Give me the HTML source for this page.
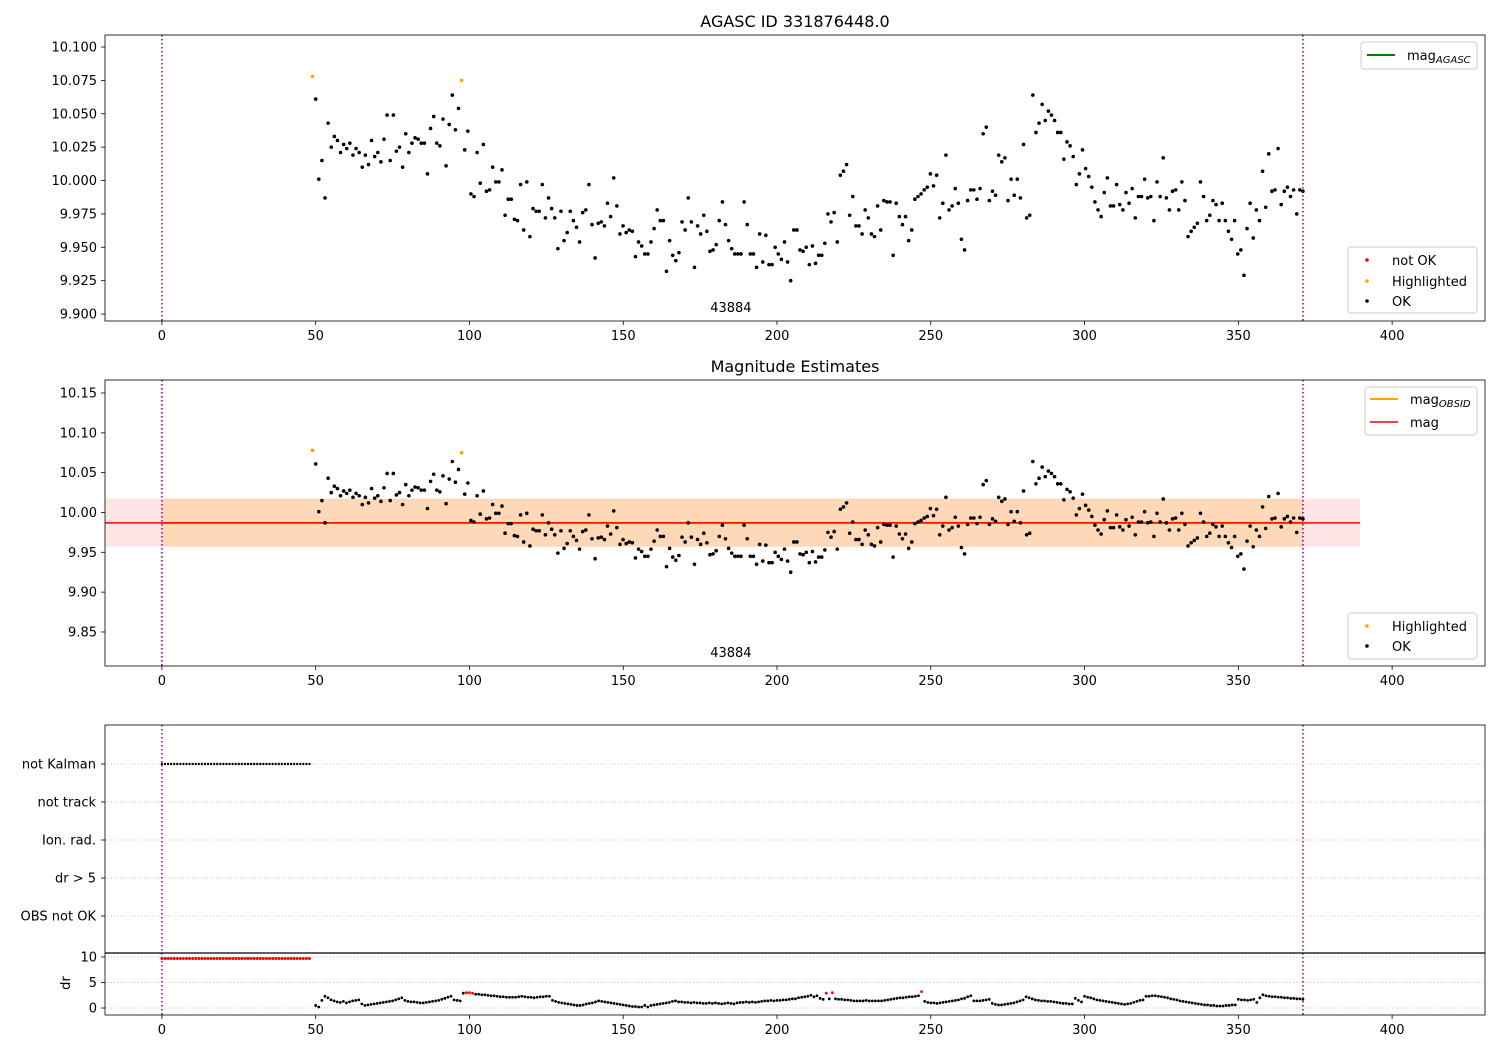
<!DOCTYPE html>
<html><head><meta charset="utf-8"><style>
html,body{margin:0;padding:0;background:#fff;}
svg{display:block;font-family:"DejaVu Sans","Liberation Sans",sans-serif;}
</style></head><body>
<svg id="chart" width="1500" height="1050" viewBox="0 0 1500 1050" xmlns="http://www.w3.org/2000/svg"></svg>
<script>
// ---- data ----
const magStart = 49;
const magEnd = 371;
const magValues = [10.078,10.061,10.001,10.015,9.987,10.043,10.025,10.033,10.030,10.021,10.027,10.024,10.028,10.019,10.024,10.021,10.010,10.019,10.012,10.030,10.018,10.021,10.014,10.031,10.049,10.015,10.049,10.022,10.025,10.010,10.035,10.021,10.028,10.032,10.031,10.028,10.028,10.005,10.039,10.048,10.028,10.026,10.046,10.011,10.042,10.064,10.038,10.054,10.075,10.023,10.037,9.990,9.988,10.021,9.998,10.027,9.992,9.993,10.010,9.999,9.999,10.008,9.974,9.986,9.986,9.971,9.970,9.997,9.963,9.999,9.958,9.979,9.977,9.977,9.997,9.972,9.987,9.979,9.972,9.949,9.977,9.955,9.961,9.977,9.970,9.965,9.954,9.976,9.978,9.997,9.967,9.942,9.968,9.969,9.966,9.983,9.973,10.002,9.981,9.960,9.966,9.961,9.963,9.962,9.943,9.954,9.951,9.945,9.945,9.954,9.964,9.978,9.970,9.970,9.932,9.955,9.944,9.940,9.946,9.969,9.963,9.987,9.969,9.935,9.966,9.960,9.974,9.962,9.947,9.948,9.952,9.970,9.984,9.967,9.955,9.949,9.945,9.945,9.945,9.984,9.967,9.945,9.945,9.935,9.960,9.939,9.959,9.937,9.937,9.950,9.945,9.941,9.954,9.939,9.925,9.963,9.963,9.948,9.947,9.950,9.937,9.951,9.938,9.944,9.944,9.953,9.975,9.969,9.976,9.954,10.004,10.007,10.012,9.974,9.988,9.966,9.966,9.960,9.978,9.972,9.960,9.958,9.981,9.963,9.985,9.984,9.984,9.944,9.983,9.973,9.967,9.973,9.955,9.963,9.986,9.988,9.990,9.993,9.995,10.005,9.996,10.004,9.972,9.983,10.019,9.978,9.981,9.994,9.983,9.956,9.948,9.985,9.993,9.993,9.986,9.994,10.035,10.040,9.985,9.992,9.989,10.019,10.014,10.017,9.985,10.001,9.989,10.001,9.987,10.027,9.972,9.974,10.064,10.036,10.043,10.057,10.045,10.052,10.049,10.045,10.036,10.036,10.016,10.029,10.026,10.018,9.997,10.005,10.023,10.009,10.003,9.995,9.984,9.978,9.973,9.991,10.002,9.981,9.981,9.997,9.982,9.978,9.991,9.983,9.994,9.972,9.988,9.988,10.001,9.987,9.988,9.970,9.999,9.988,10.017,9.987,9.978,9.992,9.993,9.978,9.999,9.985,9.958,9.962,9.965,9.968,9.999,9.988,9.970,9.974,9.985,9.982,9.970,9.983,9.970,9.962,9.956,9.970,9.945,9.948,9.929,9.964,9.983,9.957,9.978,9.970,10.007,9.980,10.020,9.992,9.993,10.024,9.982,9.992,9.995,9.988,9.993,9.975,9.993,9.992];
const highlightedIdx = [0, 48];
const magMean = 9.987;
const magBandLow = 9.957;
const magBandHigh = 10.0175;
const meanLineEnd = 389.6;
const obsStart = 0;
const obsEnd = 371;
const obsid = "43884";
const drStart = 50;
const drValues = [
0.5,0.2,1.5,2.3,2.0,1.6,1.4,1.2,1.1,1.3,
1.0,1.2,1.4,1.5,1.6,0.8,0.5,0.6,0.7,0.8,
0.9,1.0,1.1,1.2,1.3,1.4,1.6,1.8,2.0,1.5,
1.3,1.2,1.2,1.1,1.0,1.0,1.1,1.2,1.3,1.4,
1.5,1.7,1.9,2.1,2.3,1.6,1.5,1.4,2.9,3.0,
3.0,2.9,2.7,2.7,2.6,2.6,2.5,2.4,2.4,2.3,
2.2,2.2,2.1,2.1,2.1,2.1,2.2,2.3,2.2,2.1,
2.1,2.0,2.1,2.2,2.2,2.3,2.3,1.5,1.3,1.1,
1.0,0.9,0.8,0.7,0.6,0.5,0.5,0.6,0.8,0.9,
1.0,1.2,1.4,1.3,1.2,1.1,1.0,0.9,0.8,0.7,
0.6,0.5,0.4,0.3,0.3,0.2,0.2,0.5,0.2,0.5,
0.6,0.7,0.8,0.9,1.0,1.1,1.3,1.4,1.2,1.2,
1.1,1.1,1.0,1.1,1.0,1.0,0.9,0.9,1.0,0.9,
1.0,0.9,0.8,0.9,1.0,0.9,0.8,1.0,1.1,1.1,
1.2,1.1,1.2,1.1,1.2,1.3,1.4,1.4,1.5,1.4,
1.5,1.5,1.6,1.6,1.7,1.8,1.8,2.0,2.1,2.2,
2.3,2.5,2.2,2.4,1.9,1.7,2.9,1.8,3.0,1.8,
1.7,1.7,1.6,1.6,1.5,1.4,1.4,1.4,1.4,1.5,
1.4,1.4,1.4,1.4,1.4,1.5,1.6,1.7,1.8,1.9,
2.0,2.0,2.1,2.2,2.2,2.3,2.4,3.2,1.3,1.1,
1.0,1.0,0.9,1.0,1.1,1.2,1.3,1.4,1.5,1.6,
1.8,1.9,2.2,2.4,1.4,1.4,1.4,1.5,1.6,1.7,
0.9,0.7,0.6,0.6,0.7,0.8,0.9,1.0,1.2,1.4,
1.6,2.2,2.0,1.8,1.6,1.5,1.4,1.4,1.3,1.3,
1.2,1.1,1.0,0.9,0.9,0.8,0.8,1.9,1.5,1.2,
2.3,2.1,2.0,1.8,1.6,1.5,1.4,1.3,1.2,1.1,
1.0,0.9,0.8,0.7,0.8,0.9,1.1,1.3,1.5,1.6,
2.3,2.3,2.4,2.4,2.3,2.2,2.1,2.0,1.8,1.7,
1.6,1.4,1.3,1.2,1.1,1.0,0.9,0.8,0.7,0.6,
0.6,0.5,0.5,0.4,0.4,0.4,0.5,0.5,0.6,0.6,
1.7,1.6,1.6,1.5,1.6,1.7,1.1,2.0,2.6,2.4,
2.3,2.2,2.2,2.1,2.1,2.0,2.0,1.9,1.9,1.8,
1.8,1.7];
const earlyStart = 0;
const earlyEnd = 48;
const earlyDrValue = 9.7;
const drBadIdx = [49,50,51,166,168,197];
const flagRows = ["not Kalman","not track","Ion. rad.","dr > 5","OBS not OK"];
const p1Ticks = [9.900,9.925,9.950,9.975,10.000,10.025,10.050,10.075,10.100];
const p2Ticks = [9.85,9.90,9.95,10.00,10.05,10.10,10.15];
const drTicks = [0,5,10];
const xTicks = [0,50,100,150,200,250,300,350,400];

// ---- helpers ----
const NS = "http://www.w3.org/2000/svg";
const svg = document.getElementById('chart');
function el(tag, attrs, parent, text){
  const e = document.createElementNS(NS, tag);
  for (const k in attrs) e.setAttribute(k, attrs[k]);
  if (text !== undefined) e.textContent = text;
  (parent || svg).appendChild(e);
  return e;
}
const L = 105, R = 1485, XMIN = -18.5, XMAX = 430.2;
const sx = v => L + (v - XMIN) / (XMAX - XMIN) * (R - L);
function mkY(top, bottom, vmax, vmin){ return v => top + (vmax - v) / (vmax - vmin) * (bottom - top); }
const magStep = (magEnd - magStart) / (magValues.length - 1);
const magX = i => magStart + i * magStep;

const y1 = mkY(35, 321, 10.109, 9.8948);
const y2 = mkY(380, 666, 10.1663, 9.8073);
const yd = mkY(953, 1015, 10.78, -1.37);
const flagY = [764, 802, 840, 878, 916];
const FS = 13;

function xAxis(bottom, g){
  xTicks.forEach(t => {
    const x = sx(t);
    el('line', {x1:x, y1:bottom, x2:x, y2:bottom+4, stroke:'#000', 'stroke-width':0.8}, g);
    const tl = el('text', {x:x, y:bottom+19, 'font-size':FS, 'text-anchor':'middle', fill:'#000'}, g, String(t));
    
    
  });
}
function yAxis(ticks, ys, fmt, g){
  ticks.forEach(t => {
    const y = ys(t);
    el('line', {x1:L-4, y1:y, x2:L, y2:y, stroke:'#000', 'stroke-width':0.8}, g);
    const tl = el('text', {x:L-8, y:y+4.5, 'font-size':FS, 'text-anchor':'end', fill:'#000'}, g, t.toFixed(fmt));
    
    
  });
}
function vlines(top, bottom, g){
  [obsStart, obsEnd].forEach(v => {
    const l = el('line', {x1:sx(v), y1:top, x2:sx(v), y2:bottom, stroke:'#800080', 'stroke-width':1.5, 'stroke-dasharray':'1.5,2.5'}, g);
    
    
  });
}
function magPoints(ys, g, top, bottom){
  magValues.forEach((v, i) => {
    const y = ys(v);
    if (y < top || y > bottom) return;
    const hl = highlightedIdx.includes(i);
    const c = el('circle', {cx:sx(magX(i)), cy:y, r:1.8, fill: hl ? '#ffa500' : '#000'}, g);
    
    
  });
}
function frame(top, bottom, g){
  el('rect', {x:L, y:top, width:R-L, height:bottom-top, fill:'none', stroke:'#000', 'stroke-width':0.8}, g);
}
function legendBox(x, y, w, h, g){
  el('rect', {x:x, y:y, width:w, height:h, rx:3, fill:'#fff', 'fill-opacity':0.8, stroke:'#ccc', 'stroke-width':1}, g);
}

// ---- panel 1 ----
const g1 = el('g', {});  
el('text', {x:795, y:27, 'font-size':16, 'text-anchor':'middle'}, g1, 'AGASC ID 331876448.0');
magPoints(y1, g1, 35, 321);
vlines(35, 321, g1);
el('text', {x:sx(185), y:312, 'font-size':FS, 'text-anchor':'middle'}, g1, obsid);
frame(35, 321, g1); xAxis(321, g1); yAxis(p1Ticks, y1, 3, g1);
const lg1 = el('g', {}, g1);  
legendBox(1361, 42, 116, 27, lg1);
el('line', {x1:1367, y1:55, x2:1395, y2:55, stroke:'#008000', 'stroke-width':2}, lg1);
const t1 = el('text', {x:1407, y:60, 'font-size':FS}, lg1, 'mag'); el('tspan', {'font-size':10, 'font-style':'italic', dy:3}, t1, 'AGASC');
const lg2 = el('g', {}, g1);  
legendBox(1348, 247, 129, 66, lg2);
[['not OK','#f00',260],['Highlighted','#ffa500',281],['OK','#000',301]].forEach(([n,c,y]) => {
  el('circle', {cx:1367, cy:y, r:1.8, fill:c}, lg2);
  el('text', {x:1392, y:y+5, 'font-size':FS}, lg2, n);
});

// ---- panel 2 ----
const g2 = el('g', {});  
el('text', {x:795, y:372, 'font-size':16, 'text-anchor':'middle'}, g2, 'Magnitude Estimates');
const band = el('rect', {x:L, y:y2(magBandHigh), width:sx(meanLineEnd)-L, height:y2(magBandLow)-y2(magBandHigh), fill:'#ff0000', 'fill-opacity':0.1}, g2);
 
const band2 = el('rect', {x:sx(obsStart), y:y2(magBandHigh), width:sx(obsEnd)-sx(obsStart), height:y2(magBandLow)-y2(magBandHigh), fill:'#ffa500', 'fill-opacity':0.2}, g2);
 
el('line', {x1:sx(obsStart), y1:y2(magMean), x2:sx(obsEnd), y2:y2(magMean), stroke:'#ffa500', 'stroke-width':2}, g2);
el('line', {x1:L, y1:y2(magMean), x2:sx(meanLineEnd), y2:y2(magMean), stroke:'#f00', 'stroke-width':1.5}, g2);
magPoints(y2, g2, 380, 666);
vlines(380, 666, g2);
el('text', {x:sx(185), y:657, 'font-size':FS, 'text-anchor':'middle'}, g2, obsid);
frame(380, 666, g2); xAxis(666, g2); yAxis(p2Ticks, y2, 2, g2);
const lg3 = el('g', {}, g2);  
legendBox(1365, 387, 112, 48, lg3);
el('line', {x1:1370, y1:399, x2:1398, y2:399, stroke:'#ffa500', 'stroke-width':2}, lg3);
const t2 = el('text', {x:1410, y:404, 'font-size':FS}, lg3, 'mag'); el('tspan', {'font-size':10, 'font-style':'italic', dy:3}, t2, 'OBSID');
el('line', {x1:1370, y1:422, x2:1398, y2:422, stroke:'#f00', 'stroke-width':1.5}, lg3);
el('text', {x:1410, y:427, 'font-size':FS}, lg3, 'mag');
const lg4 = el('g', {}, g2);  
legendBox(1348, 613, 129, 46, lg4);
[['Highlighted','#ffa500',626],['OK','#000',646]].forEach(([n,c,y]) => {
  el('circle', {cx:1367, cy:y, r:1.8, fill:c}, lg4);
  el('text', {x:1392, y:y+5, 'font-size':FS}, lg4, n);
});

// ---- panel 3: flags ----
const g3 = el('g', {});  
flagRows.forEach((n, i) => {
  el('line', {x1:L, y1:flagY[i], x2:R, y2:flagY[i], stroke:'#b0b0b0', 'stroke-width':0.8, 'stroke-dasharray':'1,2'}, g3);
  el('line', {x1:L-4, y1:flagY[i], x2:L, y2:flagY[i], stroke:'#000', 'stroke-width':0.8}, g3);
  const tl = el('text', {x:L-9, y:flagY[i]+4.5, 'font-size':FS, 'text-anchor':'end'}, g3, n);
  
  
});
for (let t = earlyStart; t <= earlyEnd; t++) {
  const c = el('circle', {cx:sx(t), cy:flagY[0], r:1.2, fill:'#000'}, g3);
  
  
}
vlines(725, 953, g3);
el('rect', {x:L, y:725, width:R-L, height:228, fill:'none', stroke:'#000', 'stroke-width':0.8}, g3);

// ---- panel 4: dr ----
const g4 = el('g', {});  
drTicks.forEach(t => el('line', {x1:L, y1:yd(t), x2:R, y2:yd(t), stroke:'#b0b0b0', 'stroke-width':0.8, 'stroke-dasharray':'1,2'}, g4));
for (let t = earlyStart; t <= earlyEnd; t++) {
  const c = el('circle', {cx:sx(t), cy:yd(earlyDrValue), r:1.5, fill:'#f00'}, g4);
  
  
}
drValues.forEach((v, i) => {
  const bad = drBadIdx.includes(i);
  const c = el('circle', {cx:sx(drStart + i), cy:yd(v), r:1.4, fill: bad ? '#f00' : '#000'}, g4);
  
  
});
vlines(953, 1015, g4);
el('rect', {x:L, y:953, width:R-L, height:62, fill:'none', stroke:'#000', 'stroke-width':0.8}, g4);
el('line', {x1:L, y1:953, x2:R, y2:953, stroke:'#000', 'stroke-width':1.2}, g4);
xAxis(1015, g4); yAxis(drTicks, yd, 0, g4);
const dl = el('text', {x:70, y:983, 'font-size':FS, 'text-anchor':'middle', transform:'rotate(-90 70 983)'}, g4, 'dr');
 
</script>
</body></html>
